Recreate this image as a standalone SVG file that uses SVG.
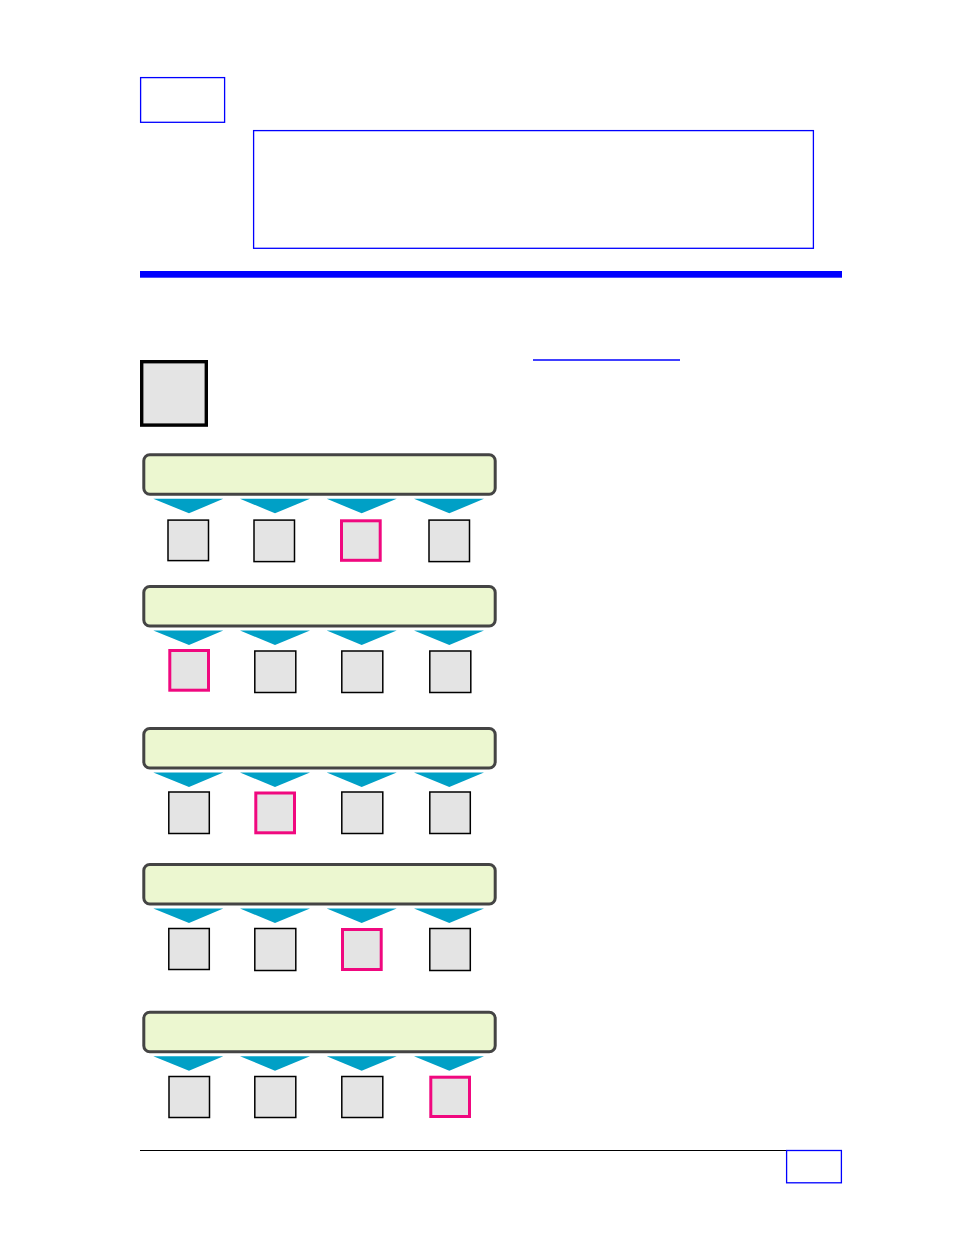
<svg xmlns="http://www.w3.org/2000/svg" width="954" height="1235" viewBox="0 0 954 1235">
<style>
.bx{fill:none;stroke:#0000ff;stroke-width:1.3}
.bar{fill:#ecf7d0;stroke:#444444;stroke-width:3}
.arr{fill:#00a0c6}
.sq{fill:#e4e4e4;stroke:#000000;stroke-width:1.5}
.sqp{fill:#e4e4e4;stroke:#f0087f;stroke-width:3}
</style>
<defs>
<g id="row">
<rect class="bar" x="143.8" y="1.5" width="351.4" height="39.5" rx="6"/>
<polygon class="arr" points="153.3,45.5 223.3,45.5 189,60"/>
<polygon class="arr" points="240,45.5 310,45.5 275,60"/>
<polygon class="arr" points="326.7,45.5 396.7,45.5 361.7,60"/>
<polygon class="arr" points="414,45.5 484,45.5 449.3,60"/>
</g>
</defs>
<g id="header">
<rect class="bx" x="140.6" y="77.6" width="84" height="44.7"/>
<rect class="bx" x="253.6" y="130.6" width="559.8" height="117.7"/>
<rect x="140" y="271" width="702" height="6.7" fill="#0000ff"/>
<line x1="533" y1="360" x2="680" y2="360" stroke="#0000ff" stroke-width="1.4"/>
<rect x="141.7" y="361.7" width="64.6" height="63.4" fill="#e4e4e4" stroke="#000000" stroke-width="3.4"/>
</g>
<g id="row1" transform="translate(0,453.3)">
<use href="#row"/>
<rect class="sq" x="168" y="66.8" width="40.5" height="40.5"/>
<rect class="sq" x="254" y="66.8" width="40.5" height="41.5"/>
<rect class="sqp" x="341.5" y="67.5" width="38.7" height="39.5"/>
<rect class="sq" x="429" y="66.8" width="40.5" height="41.5"/>
</g>
<g id="row2" transform="translate(0,585)">
<use href="#row"/>
<rect class="sqp" x="169.8" y="65.5" width="38.7" height="39.7"/>
<rect class="sq" x="254.8" y="66" width="41" height="41.5"/>
<rect class="sq" x="341.8" y="66" width="41" height="41.5"/>
<rect class="sq" x="429.8" y="66" width="41" height="41.5"/>
</g>
<g id="row3" transform="translate(0,727)">
<use href="#row"/>
<rect class="sq" x="168.8" y="65" width="40.5" height="41.5"/>
<rect class="sqp" x="255.8" y="66" width="38.7" height="39.8"/>
<rect class="sq" x="341.8" y="65" width="41" height="41.5"/>
<rect class="sq" x="429.8" y="65" width="40.5" height="41.5"/>
</g>
<g id="row4" transform="translate(0,863)">
<use href="#row"/>
<rect class="sq" x="168.8" y="65.5" width="40.5" height="41"/>
<rect class="sq" x="254.8" y="65.5" width="41" height="42"/>
<rect class="sqp" x="342.5" y="66.5" width="38.7" height="40"/>
<rect class="sq" x="429.8" y="65.5" width="40.5" height="42"/>
</g>
<g id="row5" transform="translate(0,1010.7)">
<use href="#row"/>
<rect class="sq" x="169" y="65.8" width="40.5" height="41"/>
<rect class="sq" x="254.8" y="65.8" width="41" height="41"/>
<rect class="sq" x="341.8" y="65.8" width="41" height="41"/>
<rect class="sqp" x="430.8" y="66.5" width="38.7" height="39.3"/>
</g>
<g id="footer">
<line x1="140" y1="1150.5" x2="842" y2="1150.5" stroke="#000000" stroke-width="1.2"/>
<rect class="bx" x="786.6" y="1150.5" width="54.8" height="32.3"/>
</g>
</svg>
